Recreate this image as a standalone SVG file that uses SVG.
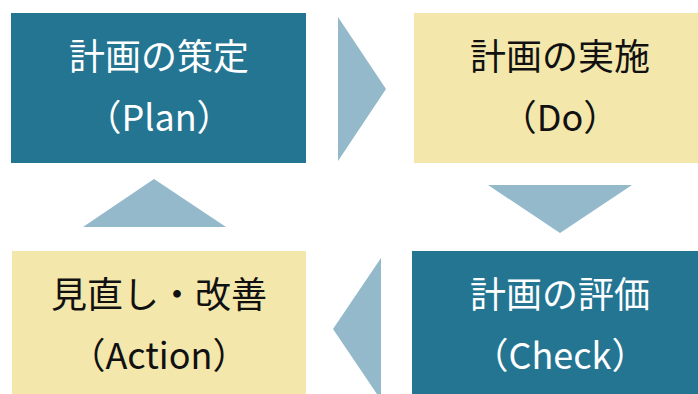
<svg xmlns="http://www.w3.org/2000/svg" width="698" height="394" viewBox="0 0 698 394">
<style>
.dark{fill:#237592}
.light{fill:#F3E7AB}
.arrow{fill:#93B9CB}
text{font-family:"Noto Sans CJK JP","Noto Sans",sans-serif;font-size:36px;text-anchor:middle}
.w{fill:#FFFFFF}
.k{fill:#111111}
</style>
<rect width="698" height="394" fill="#FFFFFF"/>
<g id="connectors">
<polygon class="arrow" points="338,17 386,89 338,161"/>
<polygon class="arrow" points="488,185 632,185 560,233"/>
<polygon class="arrow" points="381,258 381,400 333,329"/>
<polygon class="arrow" points="83,227 226,227 154,179"/>
</g>
<g id="plan">
<rect class="dark" x="11" y="13" width="295" height="150"/>
<text class="w" x="159" y="70">計画の策定</text>
<text class="w" x="159" y="131">（Plan）</text>
</g>
<g id="do">
<rect class="light" x="414" y="13" width="290" height="150"/>
<text class="k" x="560" y="70">計画の実施</text>
<text class="k" x="560" y="131">（Do）</text>
</g>
<g id="check">
<rect class="dark" x="412" y="251" width="292" height="150"/>
<text class="w" x="560" y="308">計画の評価</text>
<text class="w" x="560" y="369">（Check）</text>
</g>
<g id="action">
<rect class="light" x="12" y="251" width="294" height="150"/>
<text class="k" x="159" y="308">見直し・改善</text>
<text class="k" x="159" y="369">（Action）</text>
</g>
</svg>
